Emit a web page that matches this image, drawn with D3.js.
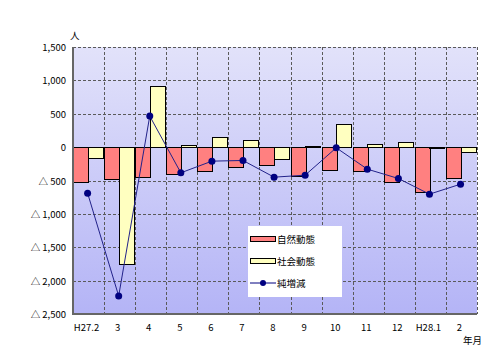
<!DOCTYPE html>
<html>
<head>
<meta charset="utf-8">
<script src="https://cdn.jsdelivr.net/npm/d3@7"></script>
<style>
  body { margin: 0; background: #fff; }
  svg text { font-family: "Noto Sans CJK JP", "DejaVu Sans", sans-serif; font-size: 9.5px; fill: #000; }
</style>
</head>
<body>
<div id="chart"></div>
<script>
// months (平成27年2月 - 平成28年2月)
const months = ["H27.2", "3", "4", "5", "6", "7", "8", "9", "10", "11", "12", "H28.1", "2"];
const natural = [-520, -475, -445, -410, -360, -295, -265, -435, -350, -365, -530, -680, -465];
const social = [-170, -1750, 915, 25, 155, 100, -175, 20, 340, 50, 70, -18, -80];
const net = [-690, -2230, 465, -385, -210, -200, -450, -420, -10, -330, -470, -705, -555];
const yTicks = [1500, 1000, 500, 0, -500, -1000, -1500, -2000, -2500];
const legendItems = ["自然動態", "社会動態", "純増減"];

const W = 483, H = 363;
const margin = { top: 47, right: 6, bottom: 49, left: 73 },
    width = W - margin.left - margin.right,
    height = H - margin.top - margin.bottom;

const svg = d3.select("#chart")
    .append("svg")
    .attr("width", W)
    .attr("height", H);

// background gradient of plot area
const grad = svg.append("defs").append("linearGradient")
    .attr("id", "bg")
    .attr("x1", 0).attr("y1", 0).attr("x2", 0).attr("y2", 1);
grad.append("stop").attr("offset", "0%").attr("stop-color", "#e2e2fa");
grad.append("stop").attr("offset", "100%").attr("stop-color", "#b4b4f6");

const g = svg.append("g")
    .attr("transform", `translate(${margin.left}, ${margin.top})`);

const x = d3.scaleBand()
    .domain(months)
    .range([0, width]);

const y = d3.scaleLinear()
    .domain([-2500, 1500])
    .range([height, 0]);

g.append("rect")
    .attr("width", width)
    .attr("height", height)
    .attr("fill", "url(#bg)");

// grid lines
g.append("g")
    .selectAll("line")
    .data(yTicks)
    .join("line")
    .attr("x1", 0).attr("x2", width)
    .attr("y1", d => Math.round(y(d)) + 0.5)
    .attr("y2", d => Math.round(y(d)) + 0.5)
    .attr("stroke", "#5a5a5a")
    .attr("stroke-dasharray", "3,2");

g.append("g")
    .selectAll("line")
    .data(months.slice(1).concat(["end"]))
    .join("line")
    .attr("x1", (d, i) => Math.round(x.step() * (i + 1)) + 0.5)
    .attr("x2", (d, i) => Math.round(x.step() * (i + 1)) + 0.5)
    .attr("y1", 0).attr("y2", height)
    .attr("stroke", "#5a5a5a")
    .attr("stroke-dasharray", "3,2");

// bars
const sub = d3.scaleBand()
    .domain(["natural", "social"])
    .range([0, x.bandwidth() * 0.94]);

const barData = months.flatMap((m, i) => [
    { m, key: "natural", v: natural[i], color: "#ff8080" },
    { m, key: "social", v: social[i], color: "#ffffc0" }
]);

g.append("g")
    .selectAll("rect")
    .data(barData)
    .join("rect")
    .attr("x", d => Math.round(x(d.m) + sub(d.key)) + 0.5)
    .attr("y", d => Math.round(y(Math.max(0, d.v))) + 0.5)
    .attr("width", Math.round(sub.bandwidth()))
    .attr("height", d => Math.max(1, Math.round(Math.abs(y(d.v) - y(0)))))
    .attr("fill", d => d.color)
    .attr("stroke", "#000")
    .attr("stroke-width", 1);

// net line
const cx = m => x(m) + sub.bandwidth();
g.append("path")
    .datum(net)
    .attr("fill", "none")
    .attr("stroke", "#22228a")
    .attr("stroke-width", 1)
    .attr("d", d3.line().x((d, i) => cx(months[i])).y(d => y(d)));

g.append("g")
    .selectAll("circle")
    .data(net)
    .join("circle")
    .attr("cx", (d, i) => cx(months[i]))
    .attr("cy", d => y(d))
    .attr("r", 3.5)
    .attr("fill", "#000080");

// axes frame
g.append("line")
    .attr("x1", 0).attr("x2", 0).attr("y1", 0).attr("y2", height + 1)
    .attr("stroke", "#666").attr("stroke-width", 2);
g.append("line")
    .attr("x1", -1).attr("x2", width).attr("y1", height).attr("y2", height)
    .attr("stroke", "#666").attr("stroke-width", 2);

// y axis labels
const fmt = d3.format(",");
g.append("g")
    .selectAll("text")
    .data(yTicks)
    .join("text")
    .attr("x", -7)
    .attr("y", d => y(d) + 4)
    .attr("text-anchor", "end")
    .text(d => d < 0 ? "△ " + fmt(-d) : fmt(d));

// x axis labels
g.append("g")
    .selectAll("text")
    .data(months)
    .join("text")
    .attr("x", d => x(d) + x.bandwidth() / 2 - 2)
    .attr("y", height + 17)
    .attr("text-anchor", "middle")
    .text(d => d);

svg.append("text").attr("x", 70).attr("y", 39).text("人");
svg.append("text").attr("x", 463).attr("y", 344).text("年月");

// legend
const lg = svg.append("g").attr("transform", "translate(248, 226)");
lg.append("rect")
    .attr("width", 94).attr("height", 71)
    .attr("fill", "#fff");
legendItems.forEach((name, i) => {
    const yy = 13 + i * 22;
    if (i < 2) {
        lg.append("rect")
            .attr("x", 2.5).attr("y", yy - 2.5)
            .attr("width", 25).attr("height", 5)
            .attr("fill", i === 0 ? "#ff8080" : "#ffffc0")
            .attr("stroke", "#000");
    } else {
        lg.append("line")
            .attr("x1", 2).attr("x2", 28).attr("y1", yy).attr("y2", yy)
            .attr("stroke", "#000080");
        lg.append("circle")
            .attr("cx", 15).attr("cy", yy).attr("r", 3)
            .attr("fill", "#000080");
    }
    lg.append("text")
        .attr("x", 29).attr("y", yy + 4)
        .text(name);
});
</script>
</body>
</html>
